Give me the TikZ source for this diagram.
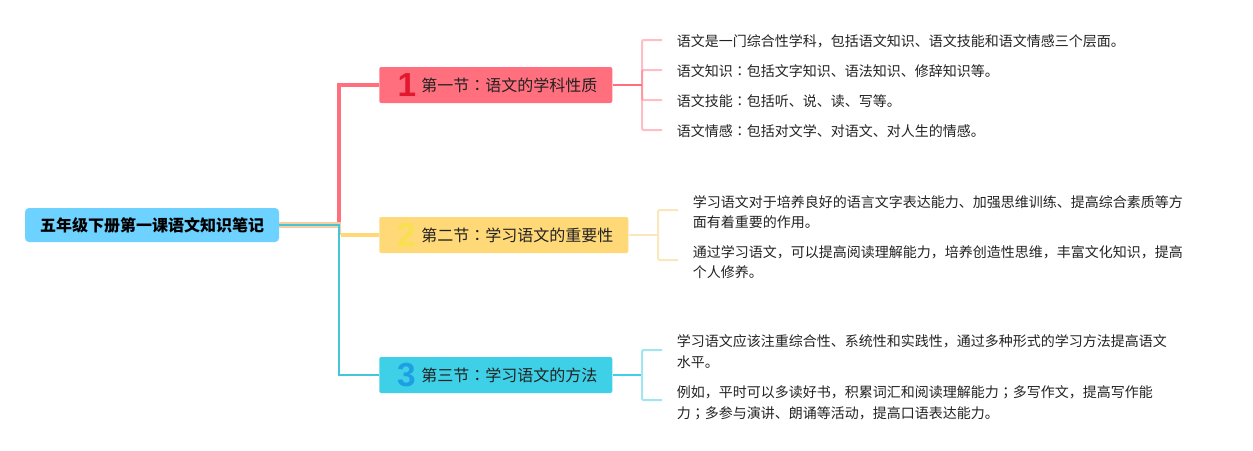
\documentclass[tikz,border=0pt]{standalone}
\usepackage{fontspec}
\setmainfont{Noto Sans CJK SC}
\newfontfamily\puncfont{Noto Sans CJK TC}
\newfontfamily\digitfont{Liberation Sans}
\usepackage{xcolor}
\usetikzlibrary{positioning}

\definecolor{rootblue}{HTML}{6DD2FF}
\definecolor{redfill}{HTML}{FF6F7E}
\definecolor{reddigit}{HTML}{E3182F}
\definecolor{yellowfill}{HTML}{FFD877}
\definecolor{yellowdigit}{HTML}{F8E04E}
\definecolor{yellowleaf}{HTML}{FBE7BC}
\definecolor{cyanfill}{HTML}{3DD0E6}
\definecolor{cyandigit}{HTML}{1E9FE3}
\definecolor{cyanleaf}{HTML}{A2E4EF}
\definecolor{peachline}{HTML}{F8CDA0}
\definecolor{tealline}{HTML}{45C6D8}
\definecolor{inktext}{HTML}{222222}

\newcommand{\colonmark}{{\puncfont ：}}
\newcommand{\semimark}{{\puncfont ；}}
\newcommand{\lowered}[1]{\raisebox{-0.75pt}{#1}}

\tikzset{
  rootbox/.style={rectangle, rounded corners=3pt, fill=rootblue, minimum width=190.5pt, minimum height=25.5pt, inner xsep=0pt, font=\fontsize{12}{14}\selectfont\bfseries},
  sectbox/.style={rectangle, rounded corners=1.5pt, minimum height=27pt, inner xsep=0pt, anchor=west, text=inktext, font=\fontsize{12}{14}\selectfont},
  digitmark/.style={font=\digitfont\fontsize{25}{25}\selectfont\bfseries, inner sep=0pt},
  leafbox/.style={rectangle, anchor=west, inner ysep=0pt, inner xsep=0pt, align=left, text=inktext, font=\fontsize{10.5}{15.4}\selectfont},
  leafline/.style={line width=1.5pt, rounded corners=1pt}
}

\begin{document}
\begin{tikzpicture}[x=0.75pt, y=-0.75pt]
\useasboundingbox (0,0) rectangle (1253,450);

% Root and sections
\node[rootbox] (root) at (152,225) {\lowered{五年级下册第一课语文知识笔记}};
\node[sectbox, fill=redfill, minimum width=174.75pt] (sec1) at (379,85) {\hspace*{20.25pt}\lowered{第一节\colonmark 语文的学科性质}};
\node[sectbox, fill=yellowfill, minimum width=186.75pt] (sec2) at (379,235) {\hspace*{20.25pt}\lowered{第二节\colonmark 学习语文的重要性}};
\node[sectbox, fill=cyanfill, minimum width=174.75pt] (sec3) at (379,375) {\hspace*{20.25pt}\lowered{第三节\colonmark 学习语文的方法}};

\node[digitmark, text=reddigit] (num1) at (407,85) {1};
\node[digitmark, text=yellowdigit] (num2) at (406.5,235) {2};
\node[digitmark, text=cyandigit] (num3) at (406.5,375) {3};

% Leaves
\node[leafbox] (leaf11) at (676.5,41) {语文是一门综合性学科，包括语文知识、语文技能和语文情感三个层面。};
\node[leafbox] (leaf12) at (676.5,71) {语文知识\colonmark 包括文字知识、语法知识、修辞知识等。};
\node[leafbox] (leaf13) at (676.5,101) {语文技能\colonmark 包括听、说、读、写等。};
\node[leafbox] (leaf14) at (676.5,131) {语文情感\colonmark 包括对文学、对语文、对人生的情感。};
\node[leafbox] (leaf21) at (692.5,212) {学习语文对于培养良好的语言文字表达能力、加强思维训练、提高综合素质等方\\面有着重要的作用。};
\node[leafbox] (leaf22) at (692.5,262) {通过学习语文，可以提高阅读理解能力，培养创造性思维，丰富文化知识，提高\\个人修养。};
\node[leafbox] (leaf31) at (676.5,351.5) {学习语文应该注重综合性、系统性和实践性，通过多种形式的学习方法提高语文\\水平。};
\node[leafbox] (leaf32) at (676.5,403) {例如，平时可以多读好书，积累词汇和阅读理解能力\semimark 多写作文，提高写作能\\力\semimark 多参与演讲、朗诵等活动，提高口语表达能力。};

% Elbows and free ends
\coordinate (trunk) at (339,225);
\coordinate (trunktop) at (339,222);
\coordinate (peachtop) at (340.5,223);
\coordinate (peachbot) at (340.5,227);
\coordinate (fork1) at (642,85);
\coordinate (fork2) at (658,235);
\coordinate (fork3) at (642,375);
\coordinate (end11) at (662,40);
\coordinate (end12) at (662,70);
\coordinate (end13) at (662,100);
\coordinate (end14) at (662,130);
\coordinate (end21) at (678,210);
\coordinate (end22) at (678,260);
\coordinate (end31) at (662,350);
\coordinate (end32) at (662,400);

% Root to sections
\draw[peachline, line width=1.2pt] (root.east |- peachtop) -- (peachtop) -- (peachtop |- sec2.west);
\draw[peachline, line width=1.2pt] (root.east |- peachbot) -- (peachbot);
\draw[redfill, line width=3.5pt] (trunktop) |- (sec1.west);
\draw[yellowfill, line width=3pt] (peachtop |- sec2.west) -- (sec2.west);
\draw[tealline, line width=1.5pt] (root.east) -- (trunk) |- (sec3.west);

% Sections to leaves
\draw[redfill, line width=1.5pt] (sec1.east) -- (fork1);
\draw[yellowleaf, line width=1.5pt] (sec2.east) -- (fork2);
\draw[cyanfill, line width=1.5pt] (sec3.east) -- (fork3);
\draw[leafline, redfill, opacity=0.45] (fork1) |- (end11);
\draw[leafline, redfill, opacity=0.45] (fork1) |- (end12);
\draw[leafline, redfill, opacity=0.45] (fork1) |- (end13);
\draw[leafline, redfill, opacity=0.45] (fork1) |- (end14);
\draw[leafline, yellowleaf] (fork2) |- (end21);
\draw[leafline, yellowleaf] (fork2) |- (end22);
\draw[leafline, cyanleaf] (fork3) |- (end31);
\draw[leafline, cyanleaf] (fork3) |- (end32);
\end{tikzpicture}
\end{document}
